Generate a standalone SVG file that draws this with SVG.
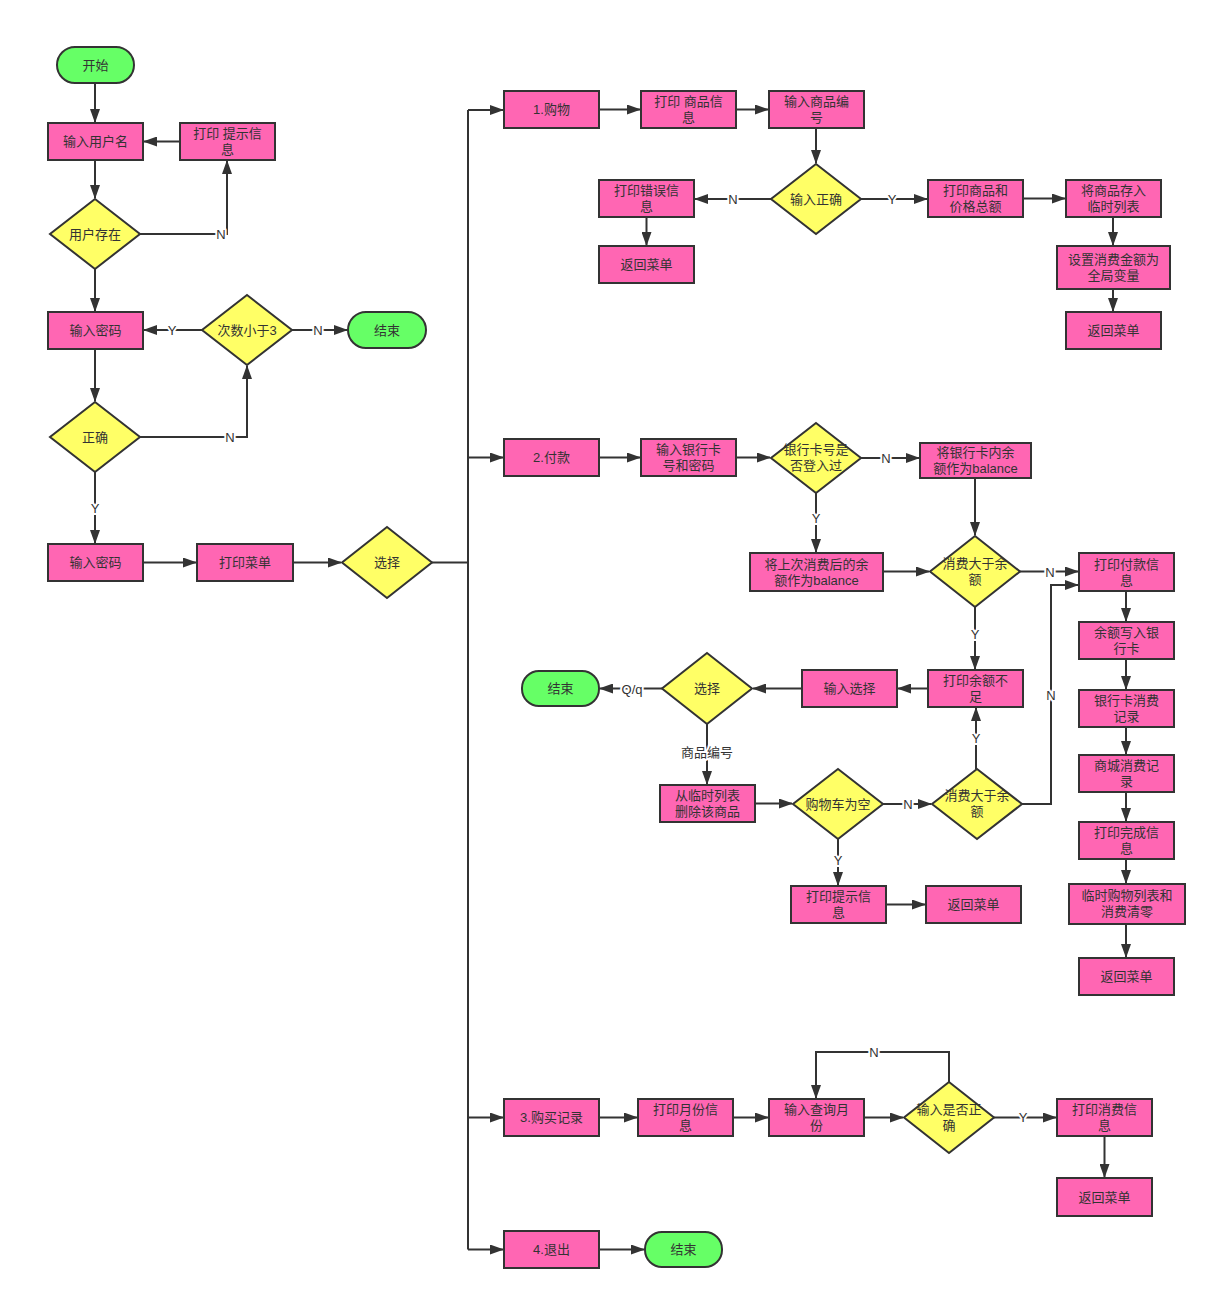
<svg xmlns="http://www.w3.org/2000/svg" width="1216" height="1299" viewBox="0 0 1216 1299">
<style>
.p{fill:#FF66B3;stroke:#333;stroke-width:2}
.d{fill:#FFFF66;stroke:#333;stroke-width:2}
.t{fill:#66FF66;stroke:#333;stroke-width:2}
text{font-family:"Liberation Sans","Noto Sans CJK SC",sans-serif;font-size:13px;fill:#333;text-anchor:middle}
.c path{fill:none;stroke:#333;stroke-width:2}
.c path.a{marker-end:url(#ah)}
.l{stroke:#fff;stroke-width:4;paint-order:stroke;stroke-linejoin:round}
</style>
<defs>
<marker id="ah" markerUnits="userSpaceOnUse" markerWidth="14" markerHeight="10" refX="13" refY="5" orient="auto">
<path d="M0,0 L14,5 L0,10 z" fill="#333"/>
</marker>
</defs>
<rect width="1216" height="1299" fill="#fff"/>

<g class="c" id="connectors">
<path class="a" d="M95,83 V122"/>
<path class="a" d="M180,141.5 H144"/>
<path class="a" d="M95,160 V198"/>
<path class="a" d="M140,234 H227 V161"/>
<path class="a" d="M95,269 V311"/>
<path class="a" d="M202,330 H144"/>
<path class="a" d="M292,330 H347"/>
<path class="a" d="M95,349 V401"/>
<path class="a" d="M140,437 H247 V366"/>
<path class="a" d="M95,472 V543"/>
<path class="a" d="M143,562.5 H196"/>
<path class="a" d="M293,562.5 H341"/>
<path d="M432,562.5 H468"/>
<path d="M468,110 V1249.5"/>
<path class="a" d="M468,110 H503"/>
<path class="a" d="M468,457.5 H503"/>
<path class="a" d="M468,1117.5 H503"/>
<path class="a" d="M468,1249.5 H503"/>

<path class="a" d="M599,109.5 H640"/>
<path class="a" d="M736,109.5 H768"/>
<path class="a" d="M816,128 V163"/>
<path class="a" d="M771,199 H695"/>
<path class="a" d="M646.5,217 V245"/>
<path class="a" d="M861,199 H927"/>
<path class="a" d="M1023,198.5 H1065"/>
<path class="a" d="M1113,217 V245"/>
<path class="a" d="M1113,289 V311"/>

<path class="a" d="M599,457.5 H640"/>
<path class="a" d="M736,457.5 H770"/>
<path class="a" d="M861,458 H919"/>
<path class="a" d="M816,492 V552"/>
<path class="a" d="M975,478 V535"/>
<path class="a" d="M883,571.5 H929"/>
<path class="a" d="M1020,571.5 H1078"/>
<path class="a" d="M975,606 V669"/>
<path class="a" d="M928,688.5 H898"/>
<path class="a" d="M802,688.5 H753"/>
<path class="a" d="M662,688.5 H600"/>
<path class="a" d="M707,723 V784"/>
<path class="a" d="M755,803.5 H792"/>
<path class="a" d="M883,804 H931"/>
<path class="a" d="M976,769 V708"/>
<path class="a" d="M1022,804 H1051 V585 H1078"/>
<path class="a" d="M838,839 V885"/>
<path class="a" d="M886,904.5 H925"/>
<path class="a" d="M1126,591 V621"/>
<path class="a" d="M1126,659 V689"/>
<path class="a" d="M1126,727 V754"/>
<path class="a" d="M1126,792 V821"/>
<path class="a" d="M1126,859 V883"/>
<path class="a" d="M1126,924 V957"/>

<path class="a" d="M599,1117.5 H637"/>
<path class="a" d="M733,1117.5 H768"/>
<path class="a" d="M864,1117.5 H903"/>
<path class="a" d="M949,1082 V1052 H816 V1098"/>
<path class="a" d="M994,1117.5 H1056"/>
<path class="a" d="M1104.5,1136 V1177"/>
<path class="a" d="M599,1249.5 H644"/>

<text class="l" x="221" y="239">N</text>
<text class="l" x="172" y="335">Y</text>
<text class="l" x="318" y="335">N</text>
<text class="l" x="230" y="442">N</text>
<text class="l" x="95" y="513">Y</text>
<text class="l" x="733" y="204">N</text>
<text class="l" x="892" y="204">Y</text>
<text class="l" x="886" y="463">N</text>
<text class="l" x="816" y="523">Y</text>
<text class="l" x="1050" y="577">N</text>
<text class="l" x="975" y="639">Y</text>
<text class="l" x="632" y="694">Q/q</text>
<text class="l" x="707" y="757">商品编号</text>
<text class="l" x="908" y="809">N</text>
<text class="l" x="976" y="743">Y</text>
<text class="l" x="1051" y="700">N</text>
<text class="l" x="838" y="865">Y</text>
<text class="l" x="874" y="1057">N</text>
<text class="l" x="1023" y="1122">Y</text>
</g>

<g id="start"><rect class="t" x="57" y="47" width="77" height="36" rx="18"/><text x="95.5" y="70">开始</text></g>
<g id="input-user"><rect class="p" x="48" y="123" width="95" height="37"/><text x="95.5" y="146">输入用户名</text></g>
<g id="print-hint"><rect class="p" x="180" y="123" width="95" height="37"/><text x="227.5" y="138">打印 提示信</text><text x="227.5" y="154">息</text></g>
<g id="user-exists"><polygon class="d" points="95,199 140,234 95,269 50,234"/><text x="95" y="239">用户存在</text></g>
<g id="input-pwd1"><rect class="p" x="48" y="312" width="95" height="37"/><text x="95.5" y="335">输入密码</text></g>
<g id="count-lt3"><polygon class="d" points="247,295 292,330 247,365 202,330"/><text x="247" y="335">次数小于3</text></g>
<g id="end1"><rect class="t" x="348" y="312" width="78" height="36" rx="18"/><text x="387" y="335">结束</text></g>
<g id="correct"><polygon class="d" points="95,402 140,437 95,472 50,437"/><text x="95" y="442">正确</text></g>
<g id="input-pwd2"><rect class="p" x="48" y="544" width="95" height="37"/><text x="95.5" y="567">输入密码</text></g>
<g id="print-menu"><rect class="p" x="197" y="544" width="96" height="37"/><text x="245" y="567">打印菜单</text></g>
<g id="choose1"><polygon class="d" points="387,527 432,562.5 387,598 342,562.5"/><text x="387" y="567">选择</text></g>

<g id="shop"><rect class="p" x="504" y="91" width="95" height="37"/><text x="551.5" y="114">1.购物</text></g>
<g id="print-goods"><rect class="p" x="641" y="91" width="95" height="37"/><text x="688.5" y="106">打印 商品信</text><text x="688.5" y="122">息</text></g>
<g id="input-goods-no"><rect class="p" x="769" y="91" width="95" height="37"/><text x="816.5" y="106">输入商品编</text><text x="816.5" y="122">号</text></g>
<g id="input-ok"><polygon class="d" points="816,164 861,199 816,234 771,199"/><text x="816" y="204">输入正确</text></g>
<g id="print-err"><rect class="p" x="599" y="180" width="95" height="37"/><text x="646.5" y="195">打印错误信</text><text x="646.5" y="211">息</text></g>
<g id="back1"><rect class="p" x="599" y="246" width="95" height="37"/><text x="646.5" y="269">返回菜单</text></g>
<g id="print-total"><rect class="p" x="928" y="180" width="95" height="37"/><text x="975.5" y="195">打印商品和</text><text x="975.5" y="211">价格总额</text></g>
<g id="save-temp"><rect class="p" x="1066" y="180" width="95" height="37"/><text x="1113.5" y="195">将商品存入</text><text x="1113.5" y="211">临时列表</text></g>
<g id="set-global"><rect class="p" x="1057" y="246" width="113" height="43"/><text x="1113.5" y="264">设置消费金额为</text><text x="1113.5" y="280">全局变量</text></g>
<g id="back2"><rect class="p" x="1066" y="312" width="95" height="37"/><text x="1113.5" y="335">返回菜单</text></g>

<g id="pay"><rect class="p" x="504" y="439" width="95" height="37"/><text x="551.5" y="462">2.付款</text></g>
<g id="input-card"><rect class="p" x="641" y="439" width="95" height="37"/><text x="688.5" y="454">输入银行卡</text><text x="688.5" y="470">号和密码</text></g>
<g id="card-logged"><polygon class="d" points="816,423 861,458 816,493 771,458"/><text x="816" y="454">银行卡号是</text><text x="816" y="470">否登入过</text></g>
<g id="card-balance"><rect class="p" x="920" y="443" width="111" height="35"/><text x="975.5" y="457">将银行卡内余</text><text x="975.5" y="473">额作为balance</text></g>
<g id="last-balance"><rect class="p" x="750" y="553" width="133" height="38"/><text x="816.5" y="569">将上次消费后的余</text><text x="816.5" y="585">额作为balance</text></g>
<g id="over-balance1"><polygon class="d" points="975,536 1020,571.5 975,607 930,571.5"/><text x="975" y="568">消费大于余</text><text x="975" y="584">额</text></g>
<g id="print-pay"><rect class="p" x="1079" y="553" width="95" height="38"/><text x="1126.5" y="569">打印付款信</text><text x="1126.5" y="585">息</text></g>
<g id="write-card"><rect class="p" x="1079" y="622" width="95" height="37"/><text x="1126.5" y="637">余额写入银</text><text x="1126.5" y="653">行卡</text></g>
<g id="card-record"><rect class="p" x="1079" y="690" width="95" height="37"/><text x="1126.5" y="705">银行卡消费</text><text x="1126.5" y="721">记录</text></g>
<g id="mall-record"><rect class="p" x="1079" y="755" width="95" height="37"/><text x="1126.5" y="770">商城消费记</text><text x="1126.5" y="786">录</text></g>
<g id="print-done"><rect class="p" x="1079" y="822" width="95" height="37"/><text x="1126.5" y="837">打印完成信</text><text x="1126.5" y="853">息</text></g>
<g id="clear"><rect class="p" x="1069" y="884" width="116" height="40"/><text x="1127" y="900">临时购物列表和</text><text x="1127" y="916">消费清零</text></g>
<g id="back3"><rect class="p" x="1079" y="958" width="95" height="37"/><text x="1126.5" y="981">返回菜单</text></g>
<g id="print-insufficient"><rect class="p" x="928" y="670" width="95" height="37"/><text x="975.5" y="685">打印余额不</text><text x="975.5" y="701">足</text></g>
<g id="input-choice"><rect class="p" x="802" y="670" width="95" height="37"/><text x="849.5" y="693">输入选择</text></g>
<g id="choose2"><polygon class="d" points="707,653 752,688.5 707,724 662,688.5"/><text x="707" y="693">选择</text></g>
<g id="end2"><rect class="t" x="522" y="671" width="77" height="35" rx="17"/><text x="560.5" y="693">结束</text></g>
<g id="delete-goods"><rect class="p" x="660" y="785" width="95" height="37"/><text x="707.5" y="800">从临时列表</text><text x="707.5" y="816">删除该商品</text></g>
<g id="cart-empty"><polygon class="d" points="838,769 883,804 838,839 793,804"/><text x="838" y="809">购物车为空</text></g>
<g id="over-balance2"><polygon class="d" points="977,769 1022,804 977,839 932,804"/><text x="977" y="800">消费大于余</text><text x="977" y="816">额</text></g>
<g id="print-tip"><rect class="p" x="791" y="886" width="95" height="37"/><text x="838.5" y="901">打印提示信</text><text x="838.5" y="917">息</text></g>
<g id="back4"><rect class="p" x="926" y="886" width="95" height="37"/><text x="973.5" y="909">返回菜单</text></g>

<g id="history"><rect class="p" x="504" y="1099" width="95" height="37"/><text x="551.5" y="1122">3.购买记录</text></g>
<g id="print-month"><rect class="p" x="638" y="1099" width="95" height="37"/><text x="685.5" y="1114">打印月份信</text><text x="685.5" y="1130">息</text></g>
<g id="input-month"><rect class="p" x="769" y="1099" width="95" height="37"/><text x="816.5" y="1114">输入查询月</text><text x="816.5" y="1130">份</text></g>
<g id="month-ok"><polygon class="d" points="949,1082 994,1117.5 949,1153 904,1117.5"/><text x="949" y="1114">输入是否正</text><text x="949" y="1130">确</text></g>
<g id="print-consume"><rect class="p" x="1057" y="1099" width="95" height="37"/><text x="1104.5" y="1114">打印消费信</text><text x="1104.5" y="1130">息</text></g>
<g id="back5"><rect class="p" x="1057" y="1178" width="95" height="38"/><text x="1104.5" y="1202">返回菜单</text></g>
<g id="quit"><rect class="p" x="504" y="1231" width="95" height="37"/><text x="551.5" y="1254">4.退出</text></g>
<g id="end3"><rect class="t" x="645" y="1232" width="77" height="35" rx="17"/><text x="683.5" y="1254">结束</text></g>
</svg>
